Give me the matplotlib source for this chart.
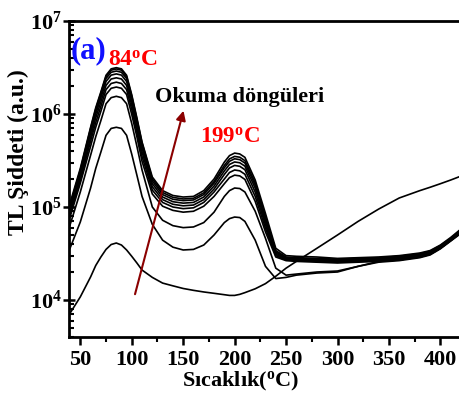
import matplotlib
matplotlib.use("Agg")
import matplotlib.pyplot as plt
from matplotlib.ticker import MultipleLocator, LogLocator, NullFormatter

plt.rcParams['font.family'] = ['Liberation Serif', 'DejaVu Serif']
plt.rcParams['font.weight'] = 'bold'
plt.rcParams['mathtext.fontset'] = 'custom'
plt.rcParams['mathtext.rm'] = 'Liberation Serif:bold'
plt.rcParams['mathtext.bf'] = 'Liberation Serif:bold'
plt.rcParams['mathtext.it'] = 'Liberation Serif:bold:italic'

# Sıcaklık (°C)
temp = [40, 50, 60, 65, 70, 75, 80, 85, 90, 95, 100, 105, 110, 120, 130, 140,
        150, 160, 170, 180, 190, 195, 200, 205, 210, 220, 230, 240, 250, 260,
        280, 300, 320, 340, 360, 380, 390, 400, 410, 420]

# TL şiddeti, okuma döngüleri 1..10
c1 = [7.2e3, 1.08e4, 1.77e4, 2.35e4, 2.9e4, 3.5e4, 3.95e4, 4.1e4, 3.9e4, 3.45e4,
      2.95e4, 2.5e4, 2.1e4, 1.75e4, 1.52e4, 1.42e4, 1.33e4, 1.27e4, 1.22e4,
      1.18e4, 1.14e4, 1.12e4, 1.12e4, 1.15e4, 1.2e4, 1.32e4, 1.5e4, 1.8e4,
      2.2e4, 2.6e4, 3.6e4, 5.0e4, 7.0e4, 9.5e4, 1.25e5, 1.5e5, 1.63e5, 1.78e5,
      1.95e5, 2.15e5]
c2 = [3.6e4, 6.9e4, 1.6e5, 2.6e5, 3.9e5, 5.9e5, 7.0e5, 7.2e5, 7.0e5, 5.9e5,
      3.7e5, 2.2e5, 1.3e5, 6.5e4, 4.4e4, 3.7e4, 3.45e4, 3.5e4, 3.9e4, 5.0e4,
      6.8e4, 7.5e4, 7.8e4, 7.7e4, 7.0e4, 4.4e4, 2.3e4, 1.7e4, 1.75e4, 1.85e4,
      1.95e4, 2.0e4, 2.3e4, 2.55e4, 2.65e4, 2.85e4, 3.05e4, 3.55e4, 4.3e4, 5.2e4]
c3 = [6.4e4, 1.45e5, 3.6e5, 5.7e5, 8.5e5, 1.29e6, 1.5e6, 1.55e6, 1.5e6, 1.29e6,
      7.9e5, 4.5e5, 2.5e5, 1.0e5, 7.2e4, 6.3e4, 6.0e4, 6.1e4, 6.8e4, 8.8e4,
      1.3e5, 1.5e5, 1.6e5, 1.58e5, 1.45e5, 9.0e4, 4.6e4, 2.2e4, 1.85e4, 1.9e4,
      2.0e4, 2.05e4, 2.3e4, 2.6e4, 2.7e4, 2.9e4, 3.1e4, 3.6e4, 4.35e4, 5.3e4]
c4 = [7.8e4, 1.8e5, 4.5e5, 7.2e5, 1.07e6, 1.62e6, 1.89e6, 1.95e6, 1.89e6, 1.62e6,
      9.9e5, 5.7e5, 3.1e5, 1.38e5, 1.02e5, 9.2e4, 8.8e4, 9.0e4, 1.02e5, 1.3e5,
      1.78e5, 2.07e5, 2.2e5, 2.16e5, 1.98e5, 1.15e5, 5.4e4, 2.9e4, 2.65e4, 2.6e4,
      2.55e4, 2.5e4, 2.55e4, 2.6e4, 2.7e4, 2.9e4, 3.1e4, 3.6e4, 4.35e4, 5.3e4]
c5 = [8.5e4, 1.95e5, 5.1e5, 8.1e5, 1.21e6, 1.83e6, 2.13e6, 2.2e6, 2.13e6, 1.83e6,
      1.12e6, 6.4e5, 3.5e5, 1.52e5, 1.12e5, 1.0e5, 9.6e4, 9.8e4, 1.12e5, 1.45e5,
      2.0e5, 2.35e5, 2.5e5, 2.45e5, 2.25e5, 1.3e5, 5.9e4, 3.0e4, 2.7e4, 2.65e4,
      2.6e4, 2.55e4, 2.6e4, 2.65e4, 2.75e4, 2.95e4, 3.15e4, 3.65e4, 4.4e4, 5.4e4]
c6 = [9.0e4, 2.1e5, 5.6e5, 9.1e5, 1.35e6, 2.03e6, 2.38e6, 2.45e6, 2.38e6, 2.03e6,
      1.25e6, 7.1e5, 3.9e5, 1.65e5, 1.2e5, 1.07e5, 1.03e5, 1.05e5, 1.2e5, 1.56e5,
      2.24e5, 2.63e5, 2.8e5, 2.74e5, 2.52e5, 1.45e5, 6.4e4, 3.1e4, 2.75e4, 2.7e4,
      2.65e4, 2.6e4, 2.65e4, 2.7e4, 2.8e4, 3.0e4, 3.2e4, 3.7e4, 4.45e4, 5.45e4]
c7 = [9.5e4, 2.25e5, 6.2e5, 1.0e6, 1.49e6, 2.24e6, 2.62e6, 2.7e6, 2.62e6, 2.24e6,
      1.38e6, 7.8e5, 4.3e5, 1.78e5, 1.28e5, 1.14e5, 1.1e5, 1.12e5, 1.28e5, 1.68e5,
      2.44e5, 2.87e5, 3.05e5, 2.99e5, 2.75e5, 1.6e5, 6.9e4, 3.2e4, 2.8e4, 2.75e4,
      2.7e4, 2.65e4, 2.7e4, 2.75e4, 2.85e4, 3.05e4, 3.25e4, 3.75e4, 4.5e4, 5.5e4]
c8 = [1.0e5, 2.4e5, 6.7e5, 1.07e6, 1.6e6, 2.41e6, 2.81e6, 2.9e6, 2.81e6, 2.41e6,
      1.48e6, 8.4e5, 4.6e5, 1.9e5, 1.36e5, 1.21e5, 1.17e5, 1.19e5, 1.36e5, 1.8e5,
      2.64e5, 3.1e5, 3.3e5, 3.23e5, 2.97e5, 1.72e5, 7.4e4, 3.3e4, 2.85e4, 2.8e4,
      2.75e4, 2.7e4, 2.75e4, 2.8e4, 2.9e4, 3.1e4, 3.3e4, 3.8e4, 4.55e4, 5.6e4]
c9 = [1.05e5, 2.5e5, 7.0e5, 1.13e6, 1.68e6, 2.53e6, 2.96e6, 3.05e6, 2.96e6, 2.53e6,
      1.56e6, 8.8e5, 4.9e5, 2.0e5, 1.43e5, 1.27e5, 1.22e5, 1.24e5, 1.42e5, 1.88e5,
      2.8e5, 3.29e5, 3.5e5, 3.43e5, 3.15e5, 1.82e5, 7.8e4, 3.4e4, 2.9e4, 2.85e4,
      2.8e4, 2.75e4, 2.8e4, 2.85e4, 2.95e4, 3.15e4, 3.35e4, 3.85e4, 4.6e4, 5.7e4]
c10 = [1.1e5, 2.6e5, 7.2e5, 1.17e6, 1.73e6, 2.61e6, 3.06e6, 3.15e6, 3.06e6, 2.61e6,
       1.61e6, 9.1e5, 5.0e5, 2.1e5, 1.5e5, 1.33e5, 1.28e5, 1.3e5, 1.5e5, 2.0e5,
       3.04e5, 3.57e5, 3.8e5, 3.72e5, 3.42e5, 1.95e5, 8.5e4, 3.6e4, 3.0e4, 2.95e4,
       2.9e4, 2.8e4, 2.85e4, 2.9e4, 3.0e4, 3.2e4, 3.4e4, 3.9e4, 4.7e4, 5.8e4]

cycles = [c1, c2, c3, c4, c5, c6, c7, c8, c9, c10]

fig = plt.figure(figsize=(4.59, 4.05), dpi=100)
ax = fig.add_axes([0.1503, 0.1679, 0.8562, 0.7802])

for c in cycles:
    ax.plot(temp, c, color='black', lw=1.2)

ax.set_yscale('log')
ax.set_xlim(39, 421)
ax.set_ylim(4000, 1e7)

ax.xaxis.set_major_locator(MultipleLocator(50))
ax.xaxis.set_minor_locator(MultipleLocator(25))
ax.yaxis.set_major_locator(LogLocator(base=10, numticks=10))
ax.yaxis.set_minor_locator(LogLocator(base=10, subs=range(2, 10), numticks=20))
ax.yaxis.set_minor_formatter(NullFormatter())

ax.tick_params(axis='x', which='major', direction='out', length=6, width=1.8,
               labelsize=16, pad=3)
ax.tick_params(axis='x', which='minor', direction='out', length=3.5, width=1.5)
ax.tick_params(axis='y', which='major', direction='inout', length=8, width=1.8,
               labelsize=16, pad=1)
ax.tick_params(axis='y', which='minor', direction='in', length=3.5, width=1.5)

for s in ax.spines.values():
    s.set_linewidth(2.0)

ax.set_xlabel('Sıcaklık($^{\\rm o}$C)', fontsize=16, fontweight='bold')
ax.xaxis.set_label_coords(0.4377, -0.105)
ax.set_ylabel('TL Şiddeti (a.u.)', fontsize=17, fontweight='bold')
ax.yaxis.set_label_coords(-0.102, 0.585)

ax.text(41, 4.0e6, '(a)', color='#1010ff', fontsize=22, fontweight='bold',
        va='baseline')
ax.text(77, 3.3e6, '84$^{\\rm o}$C', color='red', fontsize=17, fontweight='bold',
        va='baseline')
ax.text(123, 1.35e6, 'Okuma döngüleri', color='black', fontsize=16,
        fontweight='bold', va='baseline')
ax.text(166, 4.9e5, '199$^{\\rm o}$C', color='red', fontsize=16.5,
        fontweight='bold', va='baseline')

ax.annotate('', xy=(151, 1.16e6), xytext=(102.5, 1.08e4),
            arrowprops=dict(arrowstyle='-|>', color='#8b0000', lw=1.5,
                            mutation_scale=14))

fig.savefig('out.png', dpi=100)
